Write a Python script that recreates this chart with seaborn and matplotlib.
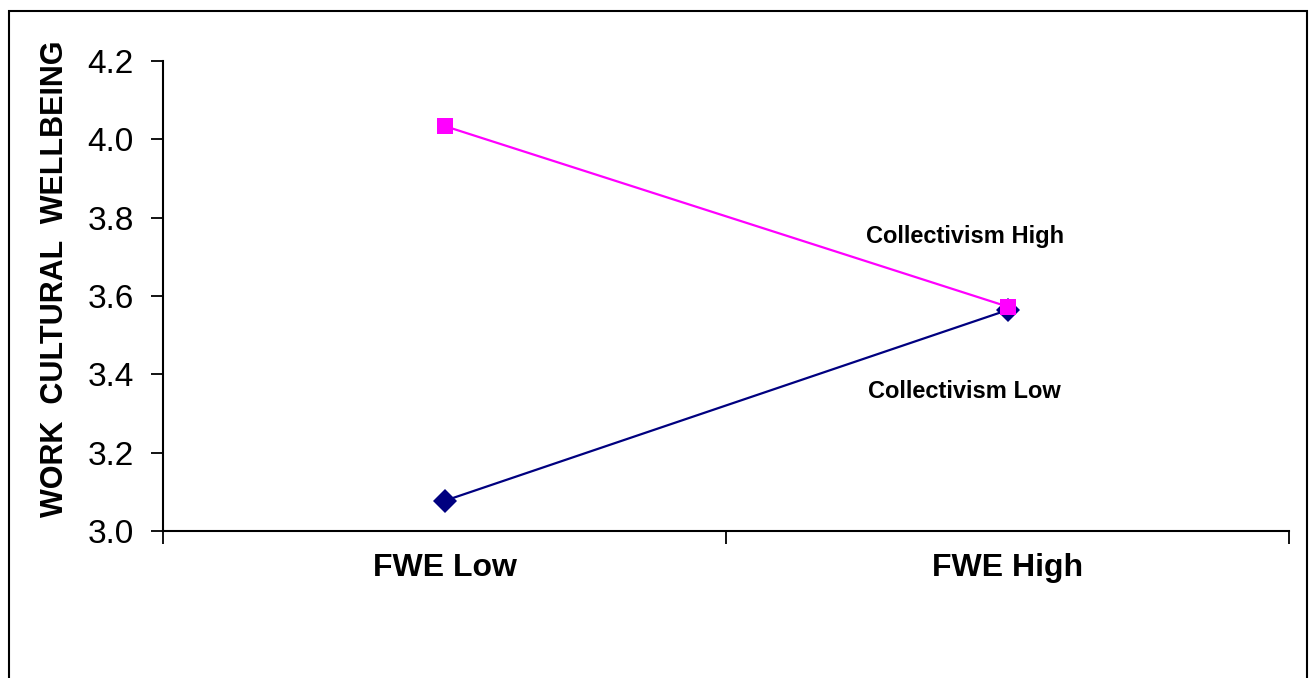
import matplotlib
matplotlib.use("Agg")
import matplotlib.pyplot as plt
import matplotlib.patches as mpatches
import seaborn as sns
import pandas as pd

categories = ["FWE Low", "FWE High"]
high_values = [4.034, 3.573]
low_values = [3.077, 3.564]
series_names = ["Collectivism High", "Collectivism Low"]
y_ticks = [3.0, 3.2, 3.4, 3.6, 3.8, 4.0, 4.2]

sns.set_theme(style="white")
plt.rcParams["font.family"] = ["Liberation Sans", "DejaVu Sans"]
plt.rcParams["text.color"] = "black"
plt.rcParams["axes.labelcolor"] = "black"
plt.rcParams["xtick.color"] = "black"
plt.rcParams["ytick.color"] = "black"

positions = [i + 0.5 for i in range(len(categories))]
df = pd.DataFrame({
    "pos": positions * 2,
    "value": high_values + low_values,
    "series": [series_names[0]] * len(categories) + [series_names[1]] * len(categories),
})

fig = plt.figure(figsize=(13.11, 6.78), dpi=100)
ax = fig.add_axes([163 / 1311, 1 - 531 / 678, (1289 - 163) / 1311, (531 - 61) / 678])

palette = {series_names[0]: "#FF00FF", series_names[1]: "#000080"}
markers = {series_names[0]: "s", series_names[1]: "D"}
sns.lineplot(data=df, x="pos", y="value", hue="series", style="series",
             palette=palette, markers=markers, dashes=False, markersize=12,
             markeredgewidth=0, linewidth=1.6, ax=ax, legend=False,
             hue_order=series_names[::-1], style_order=series_names[::-1])

ax.set_xlim(0, len(categories))
ax.set_ylim(3.0, 4.2)
ax.set_yticks(y_ticks)
ax.set_yticklabels([f"{v:.1f}" for v in y_ticks], fontsize=24)
ax.set_xticks(range(len(categories) + 1))
ax.set_xticklabels([])
ax.set_xticks(positions, minor=True)
ax.set_xticklabels(categories, minor=True, fontsize=23, fontweight="bold")
ax.tick_params(axis="x", which="minor", length=0, pad=16)
ax.tick_params(axis="x", which="major", length=9, width=1.3, color="black", direction="out", bottom=True)
ax.tick_params(axis="y", which="major", length=9, width=1.3, color="black", direction="out", left=True, pad=12)

for s in ["top", "right"]:
    ax.spines[s].set_visible(False)
for s in ["left", "bottom"]:
    ax.spines[s].set_color("black")
    ax.spines[s].set_linewidth(1.5)

ax.set_xlabel("")
ax.set_ylabel("WORK  CULTURAL  WELLBEING", fontsize=22, fontweight="bold")
ax.yaxis.set_label_coords(-0.083, 0.536)

ax.text(1.424, 3.753, series_names[0], fontsize=17, fontweight="bold", ha="center", va="center")
ax.text(1.424, 3.357, series_names[1], fontsize=17, fontweight="bold", ha="center", va="center")

border = mpatches.Rectangle((9 / 1311, -0.05), (1307 - 9) / 1311, 0.05 + 1 - 11 / 678,
                            transform=fig.transFigure, fill=False, edgecolor="black",
                            linewidth=1.5, clip_on=False)
fig.patches.append(border)

fig.savefig("out.png", dpi=100)
